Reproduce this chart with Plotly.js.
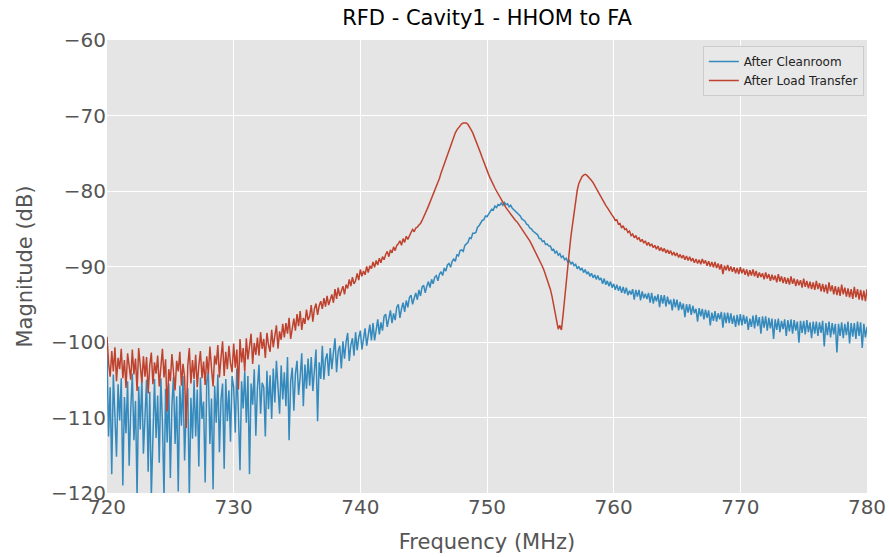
<!DOCTYPE html>
<html>
<head>
<meta charset="utf-8">
<script src="https://cdn.plot.ly/plotly-3.0.1.min.js"></script>
<style>html,body{margin:0;padding:0;background:#fff;}#chart{width:889px;height:557px;}</style>
</head>
<body>
<div id="chart"></div>
<script>
// Frequency sweep: 720 MHz to 780 MHz, one reading every 0.125 MHz
const FREQ_START = 720;
const FREQ_STEP = 0.125;

const seriesNames = ["After Cleanroom", "After Load Transfer"];

// Magnitude (dB), 8 readings per MHz (one row per MHz)
const afterCleanroom = [
 -101.5,-112.5,-106.0,-117.5,-104.3,-109.8,-115.2,-105.6,
 -110.4,-104.8,-119.0,-107.3,-112.1,-105.2,-116.4,-108.9,
 -104.2,-113.0,-107.8,-120.5,-105.9,-111.6,-104.7,-114.8,
 -108.5,-105.0,-117.2,-106.6,-120.5,-110.3,-104.9,-112.7,
 -107.1,-116.0,-104.8,-110.5,-120.5,-106.2,-113.3,-105.5,
 -118.0,-108.4,-104.6,-113.5,-107.2,-119.8,-105.8,-111.1,
 -104.5,-115.7,-109.0,-106.1,-120.5,-107.4,-112.8,-105.0,
 -112.5,-106.3,-116.5,-104.7,-110.2,-107.9,-118.6,-105.3,
 -104.0,-113.5,-107.5,-119.5,-105.8,-110.7,-104.3,-114.6,
 -107.6,-105.5,-116.8,-104.9,-110.5,-106.4,-113.2,-104.5,
 -106.0,-112.0,-103.5,-109.5,-117.0,-105.2,-108.8,-103.9,
 -110.7,-104.5,-117.5,-105.5,-108.3,-103.6,-112.4,-106.1,
 -103.0,-109.5,-105.4,-106.0,-112.5,-103.8,-108.9,-104.4,
 -110.2,-103.5,-108.0,-102.5,-106.7,-109.5,-103.1,-107.6,
 -104.0,-108.5,-102.0,-113.0,-105.2,-103.4,-109.1,-104.2,
 -102.5,-107.0,-104.6,-101.5,-108.5,-103.0,-106.2,-102.2,
 -105.8,-102.0,-106.5,-103.4,-101.0,-110.5,-102.7,-104.9,
 -100.5,-105.0,-102.3,-101.5,-104.5,-100.8,-103.6,-101.4,
 -99.5,-104.0,-101.2,-100.5,-103.5,-99.9,-102.2,-100.0,
 -98.8,-102.5,-100.4,-99.5,-101.8,-98.7,-101.1,-99.4,
 -98.5,-101.0,-99.6,-98.2,-100.5,-99.0,-97.7,-99.8,
 -97.5,-99.8,-98.1,-97.0,-99.0,-97.4,-98.5,-96.6,
 -96.3,-98.0,-96.9,-95.8,-97.5,-96.2,-97.1,-95.4,
 -95.0,-96.8,-95.6,-94.8,-96.0,-94.5,-95.4,-94.1,
 -93.8,-95.0,-94.2,-93.5,-94.4,-93.1,-93.9,-92.7,
 -92.5,-93.5,-92.6,-92.0,-92.8,-91.7,-92.3,-91.4,
 -91.2,-91.9,-91.0,-90.7,-91.2,-90.2,-90.6,-89.8,
 -89.6,-90.1,-89.3,-89.0,-89.3,-88.4,-88.6,-87.9,
 -87.8,-88.0,-87.2,-87.0,-86.8,-86.2,-86.3,-85.6,
 -85.6,-85.5,-84.8,-84.6,-84.2,-83.9,-83.8,-83.3,
 -83.4,-83.0,-82.7,-82.4,-82.5,-82.0,-82.2,-81.8,
 -81.9,-81.6,-81.9,-81.5,-81.8,-81.7,-82.1,-81.9,
 -82.3,-82.5,-82.8,-82.9,-83.2,-83.3,-83.7,-83.8,
 -84.0,-84.4,-84.5,-84.9,-85.0,-85.3,-85.5,-85.6,
 -85.8,-86.3,-86.3,-86.7,-86.6,-87.1,-87.0,-87.3,
 -87.3,-87.8,-87.7,-88.2,-88.0,-88.5,-88.3,-88.8,
 -88.6,-89.1,-88.9,-89.4,-89.2,-89.7,-89.4,-89.9,
 -89.7,-90.3,-90.0,-90.5,-90.2,-90.8,-90.4,-91.0,
 -90.7,-91.3,-90.9,-91.5,-91.1,-91.7,-91.2,-91.8,
 -91.5,-92.3,-91.6,-92.4,-91.9,-92.6,-92.0,-92.8,
 -92.3,-93.1,-92.4,-93.2,-92.6,-93.5,-92.7,-93.6,
 -92.8,-93.8,-93.2,-93.7,-93.0,-94.4,-93.1,-94.0,
 -93.1,-94.5,-93.3,-94.2,-93.6,-94.3,-93.5,-94.8,
 -93.5,-94.9,-93.9,-94.6,-93.7,-95.4,-93.8,-94.9,
 -93.8,-95.3,-94.0,-95.0,-94.4,-95.8,-94.3,-95.4,
 -94.4,-95.8,-94.7,-95.7,-94.9,-96.7,-95.0,-96.1,
 -95.0,-96.4,-95.2,-96.2,-95.6,-97.3,-95.5,-96.6,
 -95.6,-97.0,-95.7,-96.8,-95.8,-97.8,-96.1,-97.2,
 -95.9,-97.3,-96.2,-97.0,-96.0,-98.1,-96.1,-97.5,
 -96.1,-97.5,-96.2,-97.6,-96.5,-98.0,-96.4,-97.8,
 -96.3,-97.8,-96.4,-97.6,-96.6,-98.4,-96.9,-98.0,
 -96.5,-98.2,-96.4,-97.9,-96.7,-98.9,-96.6,-98.1,
 -96.6,-98.5,-96.8,-98.2,-96.9,-99.6,-97.0,-98.4,
 -96.9,-98.7,-97.2,-98.3,-97.0,-99.2,-97.1,-98.6,
 -97.0,-98.9,-97.1,-98.5,-97.3,-100.1,-97.2,-98.8,
 -97.2,-99.0,-97.1,-98.7,-97.4,-99.5,-97.3,-98.9,
 -97.3,-99.2,-97.4,-98.8,-97.2,-100.6,-97.5,-99.1,
 -97.3,-99.4,-97.5,-99.0,-97.6,-101.4,-97.6,-99.2,
 -97.4,-99.5,-97.6,-99.1,-97.3,-100.2,-97.5,-99.3,
 -97.5,-99.6,-97.3,-99.2,-97.4,-100.8,-97.6,-99.4,
 -98.0
];

const afterLoadTransfer = [
 -99.3,-102.8,-104.6,-101.2,-103.9,-100.7,-105.2,-102.1,
 -103.6,-100.9,-104.8,-102.4,-106.1,-101.5,-103.2,-105.0,
 -101.0,-104.3,-102.2,-106.5,-100.8,-103.7,-105.4,-101.9,
 -104.6,-102.0,-106.8,-103.1,-101.4,-105.6,-102.7,-104.2,
 -101.8,-105.9,-103.4,-100.9,-104.7,-102.3,-109.2,-103.6,
 -105.2,-101.6,-104.0,-106.4,-102.5,-103.9,-101.3,-105.8,
 -102.9,-104.6,-111.4,-103.2,-100.8,-105.5,-102.4,-104.9,
 -101.7,-106.0,-103.1,-101.2,-104.8,-102.6,-105.7,-101.9,
 -104.2,-100.6,-103.5,-105.9,-101.8,-103.0,-100.4,-104.7,
 -102.1,-99.9,-104.5,-101.3,-103.6,-100.5,-102.8,-104.0,
 -100.2,-103.4,-101.0,-106.3,-99.6,-102.7,-100.8,-103.9,
 -99.5,-102.3,-100.6,-98.9,-102.9,-100.1,-101.7,-99.4,
 -101.8,-98.7,-100.9,-99.6,-102.1,-98.8,-100.4,-101.3,
 -98.4,-100.7,-99.2,-97.8,-100.9,-98.6,-99.7,-97.6,
 -99.4,-97.5,-98.9,-96.8,-99.6,-97.9,-96.9,-98.5,
 -96.3,-97.9,-95.9,-98.4,-96.8,-97.6,-95.7,-97.1,
 -96.6,-95.1,-97.3,-95.6,-94.9,-96.4,-95.2,-94.6,
 -95.6,-94.2,-95.3,-93.9,-95.1,-94.4,-93.7,-94.8,
 -93.0,-94.3,-92.8,-93.9,-93.2,-92.6,-93.7,-92.4,
 -92.9,-91.7,-92.6,-91.4,-92.3,-91.9,-90.9,-91.8,
 -90.4,-91.3,-90.6,-91.1,-90.0,-90.8,-89.9,-90.3,
 -89.4,-90.1,-89.2,-89.8,-88.9,-89.5,-88.7,-89.1,
 -88.4,-88.0,-88.7,-87.8,-88.2,-87.4,-87.9,-87.2,
 -87.0,-86.6,-87.2,-86.3,-86.8,-86.0,-86.4,-85.8,
 -85.5,-85.1,-85.4,-84.9,-84.8,-84.5,-84.3,-83.9,
 -83.5,-83.0,-82.5,-82.0,-81.5,-81.0,-80.5,-80.0,
 -79.5,-78.9,-78.3,-77.6,-77.0,-76.3,-75.7,-75.1,
 -74.5,-73.9,-73.3,-72.8,-72.3,-71.9,-71.6,-71.3,
 -71.1,-71.0,-70.95,-71.0,-71.2,-71.5,-71.9,-72.3,
 -72.8,-73.3,-73.9,-74.4,-75.0,-75.6,-76.2,-76.8,
 -77.3,-77.8,-78.3,-78.8,-79.2,-79.6,-80.0,-80.4,
 -80.8,-81.2,-81.5,-81.9,-82.2,-82.5,-82.8,-83.1,
 -83.4,-83.6,-83.9,-84.1,-84.4,-84.7,-85.0,-85.3,
 -85.6,-85.9,-86.3,-86.6,-87.0,-87.4,-87.8,-88.2,
 -88.6,-89.0,-89.5,-90.0,-90.5,-91.1,-91.7,-92.3,
 -93.0,-93.9,-95.0,-96.2,-97.5,-98.3,-97.8,-98.4,
 -96.5,-94.6,-92.5,-90.2,-88.0,-86.0,-84.3,-82.5,
 -81.0,-79.9,-79.0,-78.5,-78.1,-77.9,-77.8,-77.9,
 -78.1,-78.3,-78.6,-78.9,-79.3,-79.6,-80.0,-80.4,
 -80.8,-81.2,-81.5,-81.9,-82.2,-82.6,-82.9,-83.2,
 -83.5,-83.9,-83.8,-84.4,-84.3,-84.9,-84.6,-85.1,
 -85.0,-85.5,-85.3,-85.9,-85.7,-86.2,-85.9,-86.4,
 -86.2,-86.7,-86.4,-86.9,-86.6,-87.2,-86.8,-87.3,
 -87.0,-87.5,-87.2,-87.7,-87.3,-87.9,-87.5,-88.0,
 -87.6,-88.2,-87.8,-88.3,-87.9,-88.5,-88.1,-88.6,
 -88.2,-88.8,-88.4,-88.9,-88.5,-89.1,-88.6,-89.2,
 -88.7,-89.3,-88.9,-89.5,-89.0,-89.6,-89.1,-89.7,
 -89.0,-89.6,-89.2,-89.9,-89.3,-90.0,-89.4,-90.1,
 -89.4,-90.2,-89.6,-90.4,-89.7,-91.0,-89.9,-90.5,
 -89.8,-90.6,-90.0,-90.7,-90.1,-90.9,-90.2,-91.0,
 -90.1,-90.9,-90.3,-91.1,-90.4,-91.3,-90.5,-91.2,
 -90.4,-91.3,-90.6,-91.5,-90.8,-91.4,-90.9,-91.7,
 -90.8,-91.6,-91.0,-91.9,-91.1,-91.8,-91.2,-92.1,
 -91.0,-92.0,-91.3,-92.2,-91.4,-92.3,-91.5,-92.4,
 -91.3,-92.3,-91.6,-92.6,-91.7,-92.5,-91.8,-92.8,
 -91.6,-92.7,-91.9,-92.9,-92.0,-93.0,-92.1,-93.1,
 -91.9,-93.0,-92.2,-93.3,-92.3,-93.4,-92.4,-93.6,
 -92.1,-93.3,-92.5,-93.7,-92.6,-93.8,-92.7,-93.9,
 -92.4,-93.7,-92.8,-94.0,-92.9,-94.1,-93.0,-94.3,
 -92.7,-94.1,-93.0,-94.4,-93.1,-94.5,-93.2,-94.6,
 -93.0
];

const xTickVals = [720, 730, 740, 750, 760, 770, 780];
const yTickVals = [-120, -110, -100, -90, -80, -70, -60];

const FONT = "DejaVu Sans, sans-serif";

const traces = [
  {
    type: "scatter", mode: "lines", name: seriesNames[0],
    x0: FREQ_START, dx: FREQ_STEP, y: afterCleanroom,
    line: {color: "#348ABD", width: 1.5}
  },
  {
    type: "scatter", mode: "lines", name: seriesNames[1],
    x0: FREQ_START, dx: FREQ_STEP, y: afterLoadTransfer,
    line: {color: "#BF422E", width: 1.5}
  }
];

const layout = {
  width: 889, height: 557,
  margin: {l: 107, r: 22, t: 40, b: 64, pad: 0},
  paper_bgcolor: "#ffffff",
  plot_bgcolor: "#E5E5E5",
  font: {family: FONT, color: "#555555"},
  title: {
    text: "RFD - Cavity1 - HHOM to FA",
    font: {family: FONT, size: 21, color: "#000000"},
    x: 0.5, xanchor: "center", xref: "paper",
    y: 1, yref: "paper", yanchor: "bottom", pad: {b: 15}
  },
  xaxis: {
    range: [720, 780], tickvals: xTickVals,
    showgrid: true, gridcolor: "#ffffff", gridwidth: 1,
    zeroline: false, showline: false, ticks: "",
    tickfont: {family: FONT, size: 20, color: "#555555"},
    title: {text: "Frequency (MHz)", font: {family: FONT, size: 21, color: "#555555"}, standoff: 16}
  },
  yaxis: {
    range: [-120, -60], tickvals: yTickVals,
    showgrid: true, gridcolor: "#ffffff", gridwidth: 1,
    zeroline: false, showline: false, ticks: "",
    tickfont: {family: FONT, size: 20, color: "#555555"},
    title: {text: "Magnitude (dB)", font: {family: FONT, size: 21, color: "#555555"}, standoff: 12}
  },
  showlegend: true,
  legend: {
    x: 0.784, y: 0.987, xanchor: "left", yanchor: "top",
    bgcolor: "#E8E8E8", bordercolor: "#CCCCCC", borderwidth: 1,
    font: {family: FONT, size: 12, color: "#222222"},
    itemwidth: 30, tracegroupgap: 0
  }
};

Plotly.newPlot("chart", traces, layout, {staticPlot: true, displayModeBar: false});
</script>
</body>
</html>
